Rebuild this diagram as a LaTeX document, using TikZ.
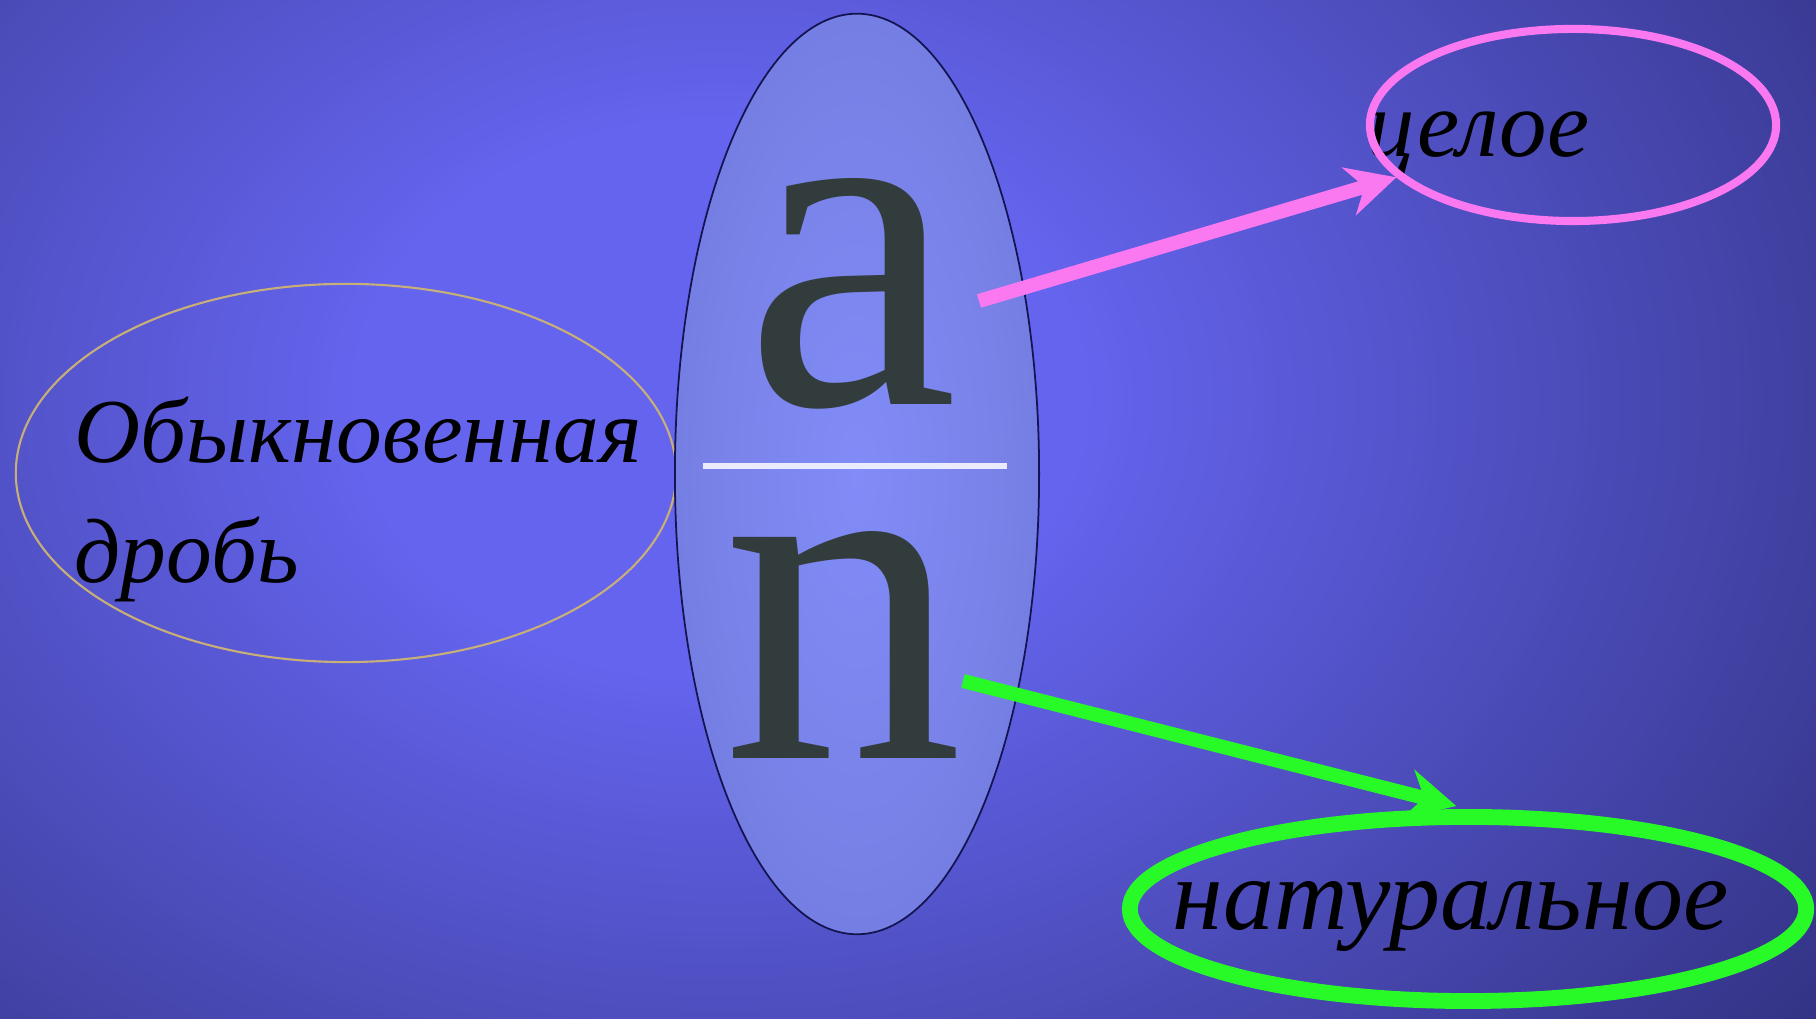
\documentclass[tikz,border=0pt]{standalone}
\usepackage{fontspec}
\setmainfont{Liberation Serif}
\usetikzlibrary{arrows.meta,shapes.geometric}
\definecolor{bglight}{RGB}{100,100,238}
\definecolor{bgdark}{RGB}{44,44,118}
\definecolor{ovalin}{RGB}{130,140,248}
\definecolor{ovalout}{RGB}{104,114,205}
\definecolor{ovalline}{RGB}{20,20,80}
\definecolor{lettergray}{RGB}{50,60,60}
\definecolor{pinkline}{RGB}{250,120,240}
\definecolor{greenline}{RGB}{40,250,40}
\definecolor{tanline}{RGB}{200,175,120}
\pgfdeclareradialshading{slidebg}{\pgfpoint{0bp}{0bp}}{color(0bp)=(bglight); color(6bp)=(bglight); color(25bp)=(bgdark); color(50bp)=(bgdark)}
\pgfdeclareradialshading{ovalshade}{\pgfpoint{0bp}{0bp}}{color(0bp)=(ovalin); color(50bp)=(ovalout)}
\tikzset{
  word/.style={font=\fontsize{26}{26}\selectfont\itshape, text=black, inner sep=0pt},
  letter/.style={font=\fontsize{137}{137}\selectfont, text=lettergray, inner sep=0pt, text height=0.47em, text depth=0pt},
  ring/.style={ellipse, draw, inner sep=0pt},
  pointer/.style={-{Stealth[length=14pt,width=14pt]}, line width=4pt},
}
\begin{document}
\begin{tikzpicture}[x=0.01cm,y=0.01cm]
\useasboundingbox (0,0) rectangle (1816,1019);
\begin{scope}
\clip (0,0) rectangle (1816,1019);
\fill[bgdark] (0,0) rectangle (1816,1019);
\shade[shading=slidebg] (720,620) ellipse (1500 and 1150);
\end{scope}
\node[word, anchor=base west] (kind1) at (74,556) {Обыкновенная};
\node[word, anchor=base west] (kind2) at (74,436) {дробь};
\node[ring, draw=tanline, line width=0.6pt, minimum width=6.6cm, minimum height=3.78cm] (kind) at (346,546) {};
\node[ring, shade, shading=ovalshade, draw=ovalline, line width=0.5pt, minimum width=3.64cm, minimum height=9.2cm] (frac) at (857,545) {};
\node[letter, anchor=base] (num) at (851,614) {a};
\node[letter, anchor=base] (den) at (843,260) {n};
\draw[white!92!blue, line width=1.7pt] (703,553) -- (1007,553);
\node[word, anchor=base west, font=\fontsize{27}{27}\selectfont\itshape] (wholetext) at (1367,862) {целое};
\node[ring, draw=pinkline, line width=2.3pt, minimum width=4.06cm, minimum height=1.92cm] (whole) at (1573,894) {};
\node[word, anchor=base west, font=\fontsize{29}{29}\selectfont\itshape] (naturaltext) at (1172,89) {натуральное};
\node[ring, draw=greenline, line width=4.5pt, minimum width=6.76cm, minimum height=1.84cm] (natural) at (1468,110) {};
\coordinate (pstart) at (979,718);
\coordinate (gstart) at (963,338);
\draw[pointer, pinkline] (pstart) -- (whole);
\draw[pointer, greenline, shorten >=0.12cm] (gstart) -- (natural.north);
\end{tikzpicture}
\end{document}
